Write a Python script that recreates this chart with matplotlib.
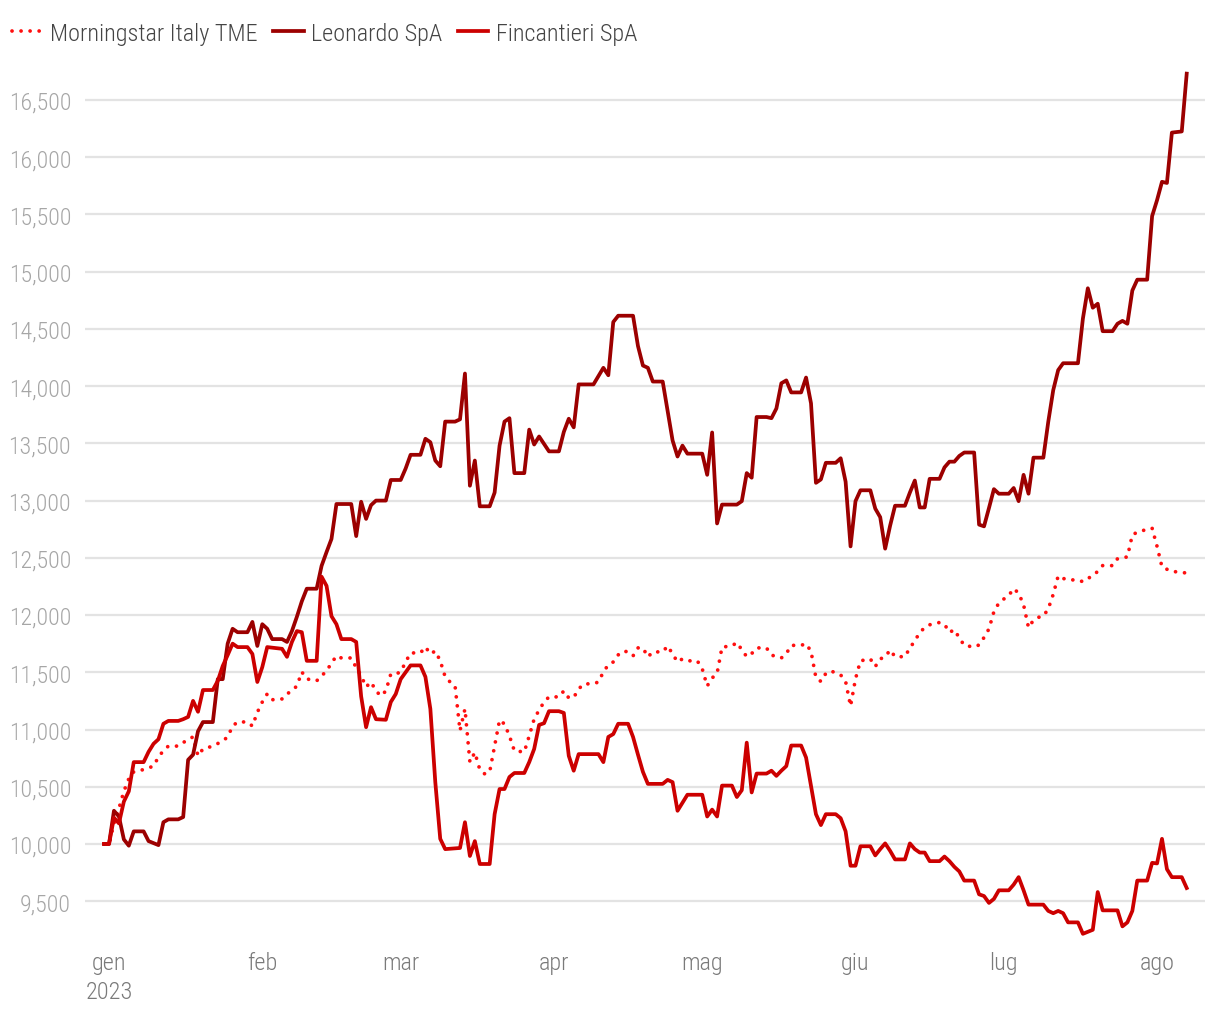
import matplotlib
matplotlib.use("Agg")
import matplotlib.pyplot as plt
import pandas as pd

plt.rcParams["font.family"] = ["Roboto Condensed", "DejaVu Sans"]
plt.rcParams["font.weight"] = 300

# days counted from 2023-01-01 (base 10,000)
tme_days = [-1, 0, 1, 2, 3, 4, 5, 7, 8, 9, 10, 11, 12, 14, 16, 17, 18, 19, 21, 23, 24, 25, 26, 28,
            29, 30, 31, 32, 33, 35, 36, 37, 38, 39, 40, 42, 43, 44, 45, 46, 47, 49, 50, 51, 52, 53,
            54, 55, 56, 57, 58, 59, 60, 61, 63, 64, 65, 66, 67, 68, 69, 70, 71, 72, 73, 74, 75, 76,
            77, 78, 79, 80, 81, 82, 84, 85, 86, 87, 88, 89, 91, 92, 93, 94, 95, 96, 98, 99, 100,
            101, 102, 103, 104, 105, 106, 107, 108, 109, 110, 112, 113, 114, 115, 116, 117, 119,
            120, 121, 122, 123, 124, 126, 127, 128, 129, 130, 131, 133, 134, 136, 137, 138, 140,
            141, 142, 143, 144, 145, 146, 148, 149, 150, 151, 152, 154, 155, 156, 157, 158, 159,
            161, 162, 163, 164, 165, 166, 168, 169, 170, 171, 172, 173, 175, 176, 177, 178, 179,
            180, 181, 182, 183, 184, 185, 186, 187, 188, 189, 190, 191, 192, 193, 194, 196, 197,
            198, 199, 200, 201, 203, 204, 205, 206, 207, 208, 210, 211, 212, 213, 214, 215, 217, 218]
tme_vals = [10000, 10000, 10180, 10310, 10460, 10570, 10630, 10650, 10665, 10680, 10760, 10815,
            10855, 10855, 10915, 10935, 10770, 10830, 10855, 10900, 10935, 11030, 11066, 11066,
            11030, 11150, 11240, 11311, 11260, 11267, 11310, 11340, 11380, 11503, 11442, 11425,
            11468, 11512, 11580, 11643, 11625, 11625, 11540, 11470, 11372, 11415, 11337, 11293,
            11337, 11485, 11485, 11503, 11590, 11669, 11669, 11722, 11660, 11686, 11600, 11460,
            11415, 11380, 10990, 11180, 10716, 10800, 10650, 10612, 10630, 10856, 11083, 11048,
            10944, 10813, 10804, 10944, 11092, 11170, 11240, 11285, 11285, 11337, 11276, 11280,
            11354, 11398, 11400, 11415, 11503, 11565, 11590, 11652, 11686, 11678, 11643, 11713,
            11713, 11634, 11678, 11678, 11730, 11660, 11590, 11617, 11600, 11600, 11530, 11380,
            11450, 11490, 11720, 11730, 11760, 11697, 11636, 11663, 11713, 11713, 11650, 11625,
            11663, 11735, 11735, 11750, 11683, 11452, 11420, 11490, 11512, 11477, 11420, 11205,
            11442, 11600, 11617, 11550, 11617, 11634, 11695, 11636, 11636, 11713, 11774, 11848,
            11890, 11915, 11935, 11920, 11848, 11872, 11800, 11735, 11720, 11739, 11804, 11879,
            12030, 12105, 12140, 12171, 12231, 12191, 12090, 11890, 11955, 11980, 11990, 12055,
            12181, 12342, 12320, 12307, 12307, 12291, 12320, 12342, 12382, 12432, 12432, 12492,
            12500, 12508, 12700, 12724, 12749, 12759, 12600, 12420, 12400, 12382, 12372, 12367]

leo_days = [-1, 0, 1, 2, 3, 4, 5, 7, 8, 10, 11, 12, 14, 15, 16, 17, 18, 19, 21, 22, 23, 24, 25, 26,
            28, 29, 30, 31, 32, 33, 35, 36, 37, 38, 39, 40, 42, 43, 44, 45, 46, 49, 50, 51, 52, 53,
            54, 56, 57, 59, 60, 61, 63, 64, 65, 66, 67, 68, 70, 71, 72, 73, 74, 75, 77, 78, 79, 80,
            81, 82, 84, 85, 86, 87, 89, 91, 92, 93, 94, 95, 98, 100, 101, 102, 103, 106, 107, 108,
            109, 110, 112, 113, 114, 115, 116, 117, 120, 121, 122, 123, 124, 127, 128, 129, 130,
            131, 133, 134, 135, 136, 137, 138, 140, 141, 142, 143, 144, 145, 147, 148, 149, 150,
            151, 152, 154, 155, 156, 157, 158, 159, 161, 162, 163, 164, 165, 166, 168, 169, 170,
            171, 172, 173, 175, 176, 177, 178, 179, 180, 182, 183, 184, 185, 186, 187, 189, 190,
            191, 192, 193, 196, 197, 198, 199, 200, 201, 203, 204, 205, 206, 207, 208, 210, 211,
            212, 213, 214, 215, 217, 218]
leo_vals = [10000, 10000, 10290, 10240, 10040, 9985, 10110, 10110, 10025, 9990, 10190, 10215,
            10215, 10235, 10735, 10780, 10985, 11065, 11065, 11440, 11440, 11750, 11880, 11850,
            11850, 11940, 11730, 11920, 11880, 11790, 11790, 11765, 11860, 11985, 12120, 12230,
            12230, 12430, 12550, 12665, 12970, 12970, 12690, 12990, 12840, 12960, 13000, 13000,
            13180, 13180, 13280, 13400, 13400, 13540, 13510, 13350, 13300, 13690, 13690, 13710,
            14110, 13130, 13350, 12950, 12950, 13070, 13480, 13690, 13720, 13240, 13240, 13620,
            13490, 13560, 13430, 13430, 13600, 13715, 13640, 14015, 14015, 14160, 14095, 14560,
            14615, 14615, 14350, 14180, 14160, 14040, 14040, 13780, 13525, 13385, 13480, 13410,
            13410, 13225, 13595, 12800, 12965, 12965, 12995, 13240, 13200, 13730, 13730, 13720,
            13805, 14025, 14050, 13945, 13945, 14075, 13850, 13155, 13185, 13330, 13330, 13370,
            13165, 12600, 12995, 13090, 13090, 12930, 12855, 12580, 12780, 12955, 12955, 13070,
            13175, 12940, 12940, 13190, 13190, 13290, 13340, 13340, 13390, 13420, 13420, 12790,
            12775, 12935, 13100, 13060, 13060, 13110, 12995, 13225, 13060, 13375, 13375, 13690,
            13965, 14140, 14200, 14200, 14590, 14855, 14685, 14720, 14480, 14480, 14545, 14570,
            14545, 14835, 14930, 14930, 15485, 15625, 15785, 15775, 16215, 16225, 16730]

fin_days = [-1, 0, 1, 2, 3, 4, 5, 7, 8, 9, 10, 11, 12, 14, 15, 16, 17, 18, 19, 21, 22, 23, 24, 25,
            26, 28, 29, 30, 31, 32, 35, 36, 37, 38, 39, 40, 42, 43, 44, 45, 46, 47, 49, 50, 51, 52,
            53, 54, 56, 57, 58, 59, 60, 61, 63, 64, 65, 66, 67, 68, 71, 72, 73, 74, 75, 77, 78, 79,
            80, 81, 82, 84, 85, 86, 87, 88, 89, 91, 92, 93, 94, 95, 99, 100, 101, 102, 103, 105,
            106, 107, 108, 109, 112, 113, 114, 115, 117, 120, 121, 122, 123, 124, 126, 127, 128,
            129, 130, 131, 133, 134, 135, 136, 137, 138, 140, 141, 142, 143, 144, 145, 147, 148,
            149, 150, 151, 152, 154, 155, 156, 157, 158, 159, 161, 162, 163, 164, 165, 166, 168,
            169, 170, 171, 172, 173, 175, 176, 177, 178, 179, 180, 182, 183, 184, 185, 186, 189,
            190, 191, 192, 193, 194, 196, 197, 199, 200, 201, 204, 205, 206, 207, 208, 210, 211,
            212, 213, 214, 215, 217, 218]
fin_vals = [10000, 10000, 10230, 10180, 10370, 10460, 10715, 10715, 10805, 10875, 10915, 11050,
            11075, 11075, 11090, 11110, 11250, 11155, 11345, 11345, 11425, 11555, 11650, 11750,
            11720, 11720, 11660, 11415, 11545, 11720, 11705, 11635, 11765, 11860, 11850, 11600,
            11600, 12335, 12255, 11990, 11920, 11790, 11790, 11765, 11290, 11020, 11195, 11090,
            11085, 11240, 11310, 11440, 11500, 11560, 11560, 11460, 11180, 10540, 10045, 9955,
            9965, 10190, 9895, 10025, 9825, 9825, 10260, 10480, 10480, 10585, 10620, 10620, 10715,
            10830, 11040, 11055, 11160, 11160, 11145, 10770, 10640, 10785, 10785, 10715, 10935,
            10960, 11050, 11050, 10935, 10780, 10630, 10525, 10525, 10560, 10540, 10290, 10430,
            10430, 10240, 10300, 10240, 10510, 10510, 10410, 10470, 10885, 10450, 10615, 10615,
            10640, 10595, 10640, 10680, 10860, 10860, 10755, 10510, 10260, 10165, 10260, 10260,
            10225, 10110, 9810, 9810, 9980, 9980, 9900, 9955, 10005, 9940, 9865, 9865, 10005,
            9955, 9925, 9925, 9850, 9850, 9890, 9850, 9800, 9760, 9680, 9680, 9560, 9545, 9485,
            9520, 9595, 9595, 9645, 9710, 9595, 9470, 9470, 9415, 9395, 9415, 9395, 9315, 9315,
            9215, 9250, 9580, 9420, 9420, 9280, 9315, 9415, 9680, 9680, 9835, 9830, 10045, 9780,
            9710, 9710, 9615]

month_labels = ["gen\n2023", "feb", "mar", "apr", "mag", "giu", "lug", "ago"]
y_ticks = [9500, 10000, 10500, 11000, 11500, 12000, 12500, 13000, 13500, 14000, 14500, 15000,
           15500, 16000, 16500]

base = pd.Timestamp("2023-01-01")


def to_dates(days):
    return base + pd.to_timedelta(days, unit="D")


fig = plt.figure(figsize=(12.2, 10.2), dpi=100)
ax = fig.add_axes([85 / 1220, 1 - 945 / 1020, 1120 / 1220, 885 / 1020])

lw = 2.7
ax.plot(to_dates(tme_days), tme_vals, color="#ff0f0f", lw=lw, linestyle=(0, (0.01, 2.4)),
        dash_capstyle="round", label="Morningstar Italy TME", zorder=3)
ax.plot(to_dates(leo_days), leo_vals, color="#9c0000", lw=lw, label="Leonardo SpA", zorder=4)
ax.plot(to_dates(fin_days), fin_vals, color="#cc0000", lw=lw, label="Fincantieri SpA", zorder=4)

ax.set_xlim(base + pd.Timedelta(days=-4.86), base + pd.Timedelta(days=221.7))
ax.set_ylim(9126, 16858)

ax.set_yticks(y_ticks)
ax.set_yticklabels([f"{v:,}" for v in y_ticks])
month_ticks = pd.date_range("2023-01-01", periods=8, freq="MS")
ax.set_xticks(month_ticks)
ax.set_xticklabels(month_labels, linespacing=1.35)

ax.grid(axis="y", color="#e3e3e3", lw=1.6)
ax.set_axisbelow(True)
for s in ax.spines.values():
    s.set_visible(False)
ax.tick_params(axis="both", length=0)
ax.tick_params(axis="y", labelsize=17.2, labelcolor="#a6a6a6", pad=10)
ax.tick_params(axis="x", labelsize=17.5, labelcolor="#7a7a7a", pad=5)

leg = fig.legend(loc="upper left", bbox_to_anchor=(-0.002, 0.992), ncol=3, frameon=False,
                 prop={"size": 17.5, "weight": 300}, handlelength=1.25, handletextpad=0.3,
                 columnspacing=0.65, borderaxespad=0.2, borderpad=0.4)
for t in leg.get_texts():
    t.set_color("#444444")

fig.savefig("out.png", dpi=100)
